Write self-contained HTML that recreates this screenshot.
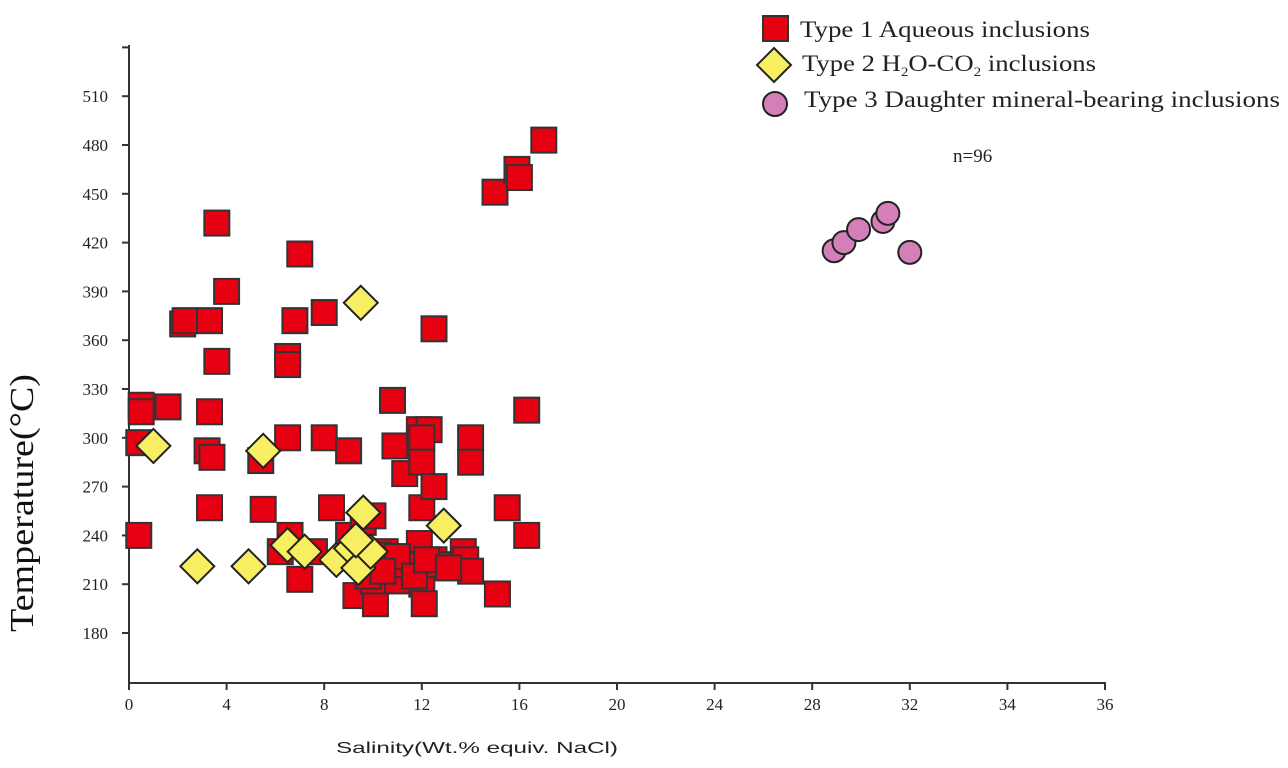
<!DOCTYPE html>
<html><head><meta charset="utf-8"><style>
html,body{margin:0;padding:0;background:#fff;}
svg{display:block;font-family:"Liberation Serif",serif;}
</style></head><body>
<svg id="chart" width="1288" height="768" viewBox="0 0 1288 768" xmlns="http://www.w3.org/2000/svg">
<g id="axes"></g>
<g id="marks"></g>
<g id="legend">
  <rect x="763" y="16" width="25" height="25" fill="#e60012" stroke="#333" stroke-width="2"/>
  <text x="800" y="37" font-size="23" fill="#222" textLength="290" lengthAdjust="spacingAndGlyphs">Type 1 Aqueous inclusions</text>
  <polygon points="774,48 791,65 774,82 757,65" fill="#f7ee62" stroke="#222" stroke-width="2"/>
  <text x="802" y="71" font-size="23" fill="#222" textLength="294" lengthAdjust="spacingAndGlyphs">Type 2 H<tspan font-size="13" dy="5">2</tspan><tspan dy="-5">O-CO</tspan><tspan font-size="13" dy="5">2</tspan><tspan dy="-5"> inclusions</tspan></text>
  <circle cx="775" cy="104" r="12" fill="#d47fb8" stroke="#222" stroke-width="2"/>
  <text x="804" y="107" font-size="23" fill="#222" textLength="476" lengthAdjust="spacingAndGlyphs">Type 3 Daughter mineral-bearing inclusions</text>
  <text x="953" y="162" font-size="19" fill="#222">n=96</text>
</g>
<text transform="translate(33,632) rotate(-90)" font-size="34" fill="#111" textLength="258" lengthAdjust="spacingAndGlyphs">Temperature(°C)</text>
<text x="336" y="753" font-size="16" fill="#222" font-family="Liberation Sans, sans-serif" textLength="282" lengthAdjust="spacingAndGlyphs">Salinity(Wt.% equiv. NaCl)</text>
</svg>
<script>
const xTicks=[0,4,8,12,16,20,24,28,32,36,40];
const xTickLabels=['0','4','8','12','16','20','24','28','32','34','36'];
const yTicks=[180,210,240,270,300,330,360,390,420,450,480,510];
const type1X=[0.5,0.5,1.6,3.3,0.4,0.4,3.2,3.4,3.3,5.4,5.5,6.5,8,9,6.2,6.6,7,7.6,8.3,9,9.3,9.6,10,10.1,10,10.5,11,11,10.9,11.3,11.9,12.3,12,12,12,12.5,11.9,12,12.1,12.5,12.7,13.7,13.8,14,14,14,15.1,15.5,16.3,16.3,10.8,12.5,6.5,6.5,2.2,2.3,3.3,3.6,4,3.6,6.8,7,8,15,15.9,16,17,9.7,10.2,11.4,11,9.8,11.7,12.2,10.4,13.1];
const type1T=[320,316,319,316,297,240,292,288,257,286,256,300,300,292,230,240,213,230,257,240,203,248,252,198,212,230,212,224,295,278,305,305,300,285,257,270,235,210,198,225,222,230,225,218,300,285,204,257,240,317,323,367,350,345,370,372,372,347,390,432,372,413,377,451,465,460,483,228,228,222,227,215,215,225,218,220];
const type2X=[1,2.8,4.9,5.5,6.5,7.2,9.5,9.6,8.5,9.1,9.4,9.9,12.9,9.3];
const type2T=[295,221,221,292,234,230,383,254,225,232,220,230,246,237];
const type3X=[28.9,29.3,29.9,30.9,31.1,32];
const type3T=[415,420,428,433,438,414];

const X0=129,XS=(1105-129)/40;
const xs=v=>X0+v*XS;
const ys=t=>633-(t-180)*(48.8/30);
const NS='http://www.w3.org/2000/svg';
function mk(tag,attrs,parent){const e=document.createElementNS(NS,tag);for(const k in attrs)e.setAttribute(k,attrs[k]);parent.appendChild(e);return e;}
const axes=document.getElementById('axes'),marks=document.getElementById('marks');
let l=mk('line',{x1:129,y1:45,x2:129,y2:684,stroke:'#333','stroke-width':2},axes);


l=mk('line',{x1:128,y1:683,x2:1106,y2:683,stroke:'#333','stroke-width':2},axes);


xTicks.forEach((v,i)=>{
 const t=mk('line',{x1:xs(v),y1:683,x2:xs(v),y2:690,stroke:'#333','stroke-width':2},axes);
 
 
 const tx=mk('text',{x:xs(v),y:710,'text-anchor':'middle','font-size':17,fill:'#222'},axes);
 tx.textContent=xTickLabels[i];
 
 
});
yTicks.concat([540]).forEach(v=>{
 const t=mk('line',{x1:122,y1:ys(v),x2:129,y2:ys(v),stroke:'#333','stroke-width':2},axes);
 
 
});
yTicks.forEach(v=>{
 const tx=mk('text',{x:108,y:ys(v)+6,'text-anchor':'end','font-size':17,fill:'#222'},axes);
 tx.textContent=v;
 
 
});
type1X.forEach((v,i)=>{
 const cx=xs(v),cy=ys(type1T[i]);
 const r=mk('rect',{x:cx-12.5,y:cy-12.5,width:25,height:25,fill:'#e60012',stroke:'#333','stroke-width':2},marks);
 
 
});
type2X.forEach((v,i)=>{
 const cx=xs(v),cy=ys(type2T[i]),d=17;
 const p=mk('polygon',{points:`${cx},${cy-d} ${cx+d},${cy} ${cx},${cy+d} ${cx-d},${cy}`,fill:'#f7ee62',stroke:'#222','stroke-width':2},marks);
 
 
});
type3X.forEach((v,i)=>{
 const c=mk('circle',{cx:xs(v),cy:ys(type3T[i]),r:11.5,fill:'#d47fb8',stroke:'#222','stroke-width':2},marks);
 
 
});
</script>
</body></html>
